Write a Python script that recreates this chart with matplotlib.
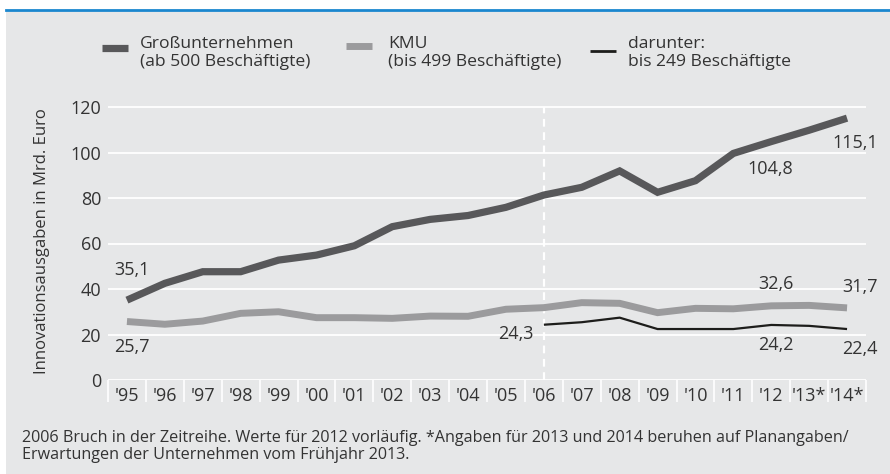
import numpy as np
import matplotlib
matplotlib.use("Agg")
import matplotlib.pyplot as plt
from matplotlib.lines import Line2D
from matplotlib.patches import Rectangle

# ---- data ----
years = ["'95", "'96", "'97", "'98", "'99", "'00", "'01", "'02", "'03", "'04",
         "'05", "'06", "'07", "'08", "'09", "'10", "'11", "'12", "'13*", "'14*"]
gross = [35.1, 42.5, 47.6, 47.6, 52.7, 54.9, 59.0, 67.4, 70.6, 72.3,
         75.9, 81.3, 84.7, 91.9, 82.5, 87.6, 99.6, 104.8, 109.8, 115.1]
kmu = [25.7, 24.5, 25.9, 29.3, 30.0, 27.4, 27.4, 27.1, 28.1, 28.0,
       31.1, 31.8, 34.0, 33.7, 29.6, 31.5, 31.3, 32.6, 32.8, 31.7]
small = [np.nan] * 11 + [24.3, 25.4, 27.4, 22.4, 22.4, 22.4, 24.2, 23.8, 22.4]
yticks = [0, 20, 40, 60, 80, 100, 120]
break_index = 11

labels = ["Großunternehmen\n(ab 500 Beschäftigte)",
          "KMU\n(bis 499 Beschäftigte)",
          "darunter:\nbis 249 Beschäftigte"]
ylabel = "Innovationsausgaben in Mrd. Euro"
footnote = ("2006 Bruch in der Zeitreihe. Werte für 2012 vorläufig. *Angaben für 2013 und 2014 beruhen auf Planangaben/\n"
            "Erwartungen der Unternehmen vom Frühjahr 2013.")

# ---- style ----
W, H = 890, 474
DPI = 100
BG = "#e6e7e8"
C_GROSS = "#58585a"
C_KMU = "#9b9b9d"
C_SMALL = "#1d1d1b"
BLUE = "#1b87cf"
TXT = "#333333"
FONT = ["Open Sans", "DejaVu Sans"]
plt.rcParams["font.family"] = FONT
NUM_FS = 13
TXT_FS = 12

fig = plt.figure(figsize=(W / DPI, H / DPI), dpi=DPI)
fig.patch.set_facecolor("white")

def fx(px):
    return px / W

def fy(py):
    return 1 - py / H

# gray panel + blue top rule
fig.add_artist(Rectangle((fx(6), 0), 1 - fx(6), fy(11), transform=fig.transFigure,
                         facecolor=BG, edgecolor="none", zorder=0))
fig.add_artist(Line2D([fx(6), 1], [fy(10), fy(10)], transform=fig.transFigure,
                      color=BLUE, lw=2.0, zorder=1))

# axes: x -0.5..19.5 -> px 108..866 ; y 0..122 -> px 380..102.45
ymax = 122
top_px = 380 - ymax * (380 - 107) / 120
ax = fig.add_axes([fx(108), fy(380), fx(866) - fx(108), fy(top_px) - fy(380)])
ax.set_facecolor("none")
ax.set_xlim(-0.5, len(years) - 0.5)
ax.set_ylim(0, ymax)
for s in ax.spines.values():
    s.set_visible(False)

x = np.arange(len(years))
ax.set_yticks(yticks)
ax.set_yticklabels([str(v) for v in yticks])
ax.set_xticks(x)
ax.set_xticklabels(years)
ax.set_xticks(np.arange(-0.5, len(years), 1), minor=True)
ax.tick_params(axis="y", length=0, pad=5, labelsize=NUM_FS, labelcolor=TXT)
ax.tick_params(axis="x", which="major", length=0, pad=5, labelsize=NUM_FS, labelcolor=TXT)
ax.tick_params(axis="x", which="minor", length=16, width=1.2, color="white", direction="out")
ax.yaxis.grid(True, color="white", lw=1.3)
ax.set_axisbelow(True)

ax.vlines(break_index, 0, yticks[-1], colors="white", linestyles=(0, (3.5, 2.5)), lw=1.6, zorder=1)

ax.plot(x, gross, color=C_GROSS, lw=5.2, solid_capstyle="butt", solid_joinstyle="miter", zorder=3)
ax.plot(x, kmu, color=C_KMU, lw=5.0, solid_capstyle="butt", solid_joinstyle="miter", zorder=3)
ax.plot(x, small, color=C_SMALL, lw=1.6, solid_capstyle="butt", zorder=4)

ax.set_ylabel(ylabel, fontsize=TXT_FS, color=TXT)
ax.yaxis.set_label_coords(-(108 - 50) / (866 - 108), 0.5)

def fmt(v):
    return f"{v:.1f}".replace(".", ",")

# value annotations: (series, index, offset in points)
notes = [
    (gross, 0, (3.6, 21.6)),
    (kmu, 0, (3.6, -18.4)),
    (small, 11, (-20, -6.7)),
    (gross, 17, (-0.7, -19.7)),
    (gross, 19, (5.8, -18.0)),
    (kmu, 17, (3.6, 15.7)),
    (kmu, 19, (9.4, 15.0)),
    (small, 17, (3.6, -14.4)),
    (small, 19, (9.4, -14.4)),
]
for series, i, off in notes:
    ax.annotate(fmt(series[i]), xy=(i, series[i]), xytext=off, textcoords="offset points",
                ha="center", va="center", fontsize=NUM_FS, color=TXT, annotation_clip=False)

# legend (manual)
leg = [(C_GROSS, 5.2, 102, 128, 48, 140, labels[0]),
       (C_KMU, 5.0, 346, 372, 46, 388, labels[1]),
       (C_SMALL, 2.0, 590, 616, 51, 628, labels[2])]
for col, lw, x0, x1, yy, tx, lab in leg:
    fig.add_artist(Line2D([fx(x0), fx(x1)], [fy(yy), fy(yy)], transform=fig.transFigure,
                          color=col, lw=lw, solid_capstyle="butt"))
    fig.text(fx(tx), fy(53), lab, ha="left", va="center", fontsize=12.6, color=TXT,
             linespacing=1.15)

fig.text(fx(22), fy(446.5), footnote, ha="left", va="center", fontsize=11.6, color=TXT,
         linespacing=1.12)

fig.savefig("out.png", dpi=DPI, facecolor=fig.get_facecolor())
